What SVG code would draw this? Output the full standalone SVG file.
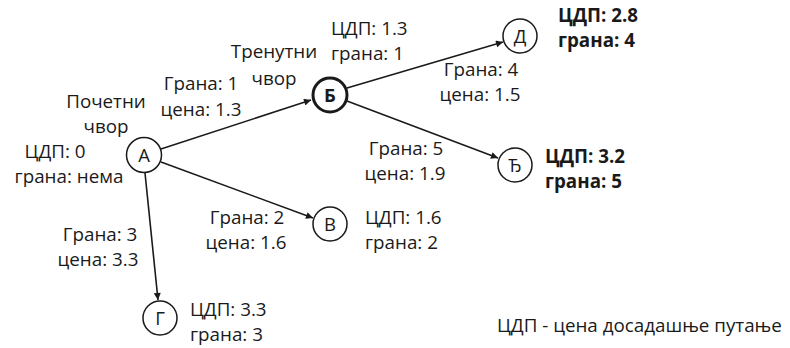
<svg xmlns="http://www.w3.org/2000/svg" width="790" height="348" viewBox="0 0 790 348">
  <style>
    text { font-family: "Open Sans", "Liberation Sans", sans-serif; font-size: 18.8px; fill: #1a1a1a; }
    .b { font-weight: bold; }
    .m { text-anchor: middle; }
    .node circle { fill: #fff; stroke: #1a1a1a; stroke-width: 1.5; }
    .node.cur circle { stroke-width: 3; }
    .node text { text-anchor: middle; font-size: 18.5px; }
    .edges line { stroke: #1a1a1a; stroke-width: 1.6; marker-end: url(#arrow); }
  </style>
  <defs>
    <marker id="arrow" viewBox="0 0 10 10" refX="10" refY="5" markerWidth="8" markerHeight="7" markerUnits="userSpaceOnUse" orient="auto">
      <path d="M0,0 L10,5 L0,10 z" fill="#1a1a1a"/>
    </marker>
  </defs>
  <rect width="790" height="348" fill="#fff"/>

  <g class="edges">
    <line x1="161" y1="149" x2="311" y2="100"/>
    <line x1="161" y1="162" x2="313" y2="218"/>
    <line x1="145" y1="173" x2="158" y2="300"/>
    <line x1="347" y1="88" x2="503" y2="42"/>
    <line x1="347" y1="101" x2="498" y2="158"/>
  </g>

  <g id="node-a" class="node"><circle cx="144" cy="155" r="17.5"/><text x="144" y="161.5">А</text></g>
  <g id="node-b" class="node cur"><circle cx="330" cy="95" r="17"/><text x="330" y="101.5" class="b">Б</text></g>
  <g id="node-d" class="node"><circle cx="520" cy="36" r="17"/><text x="520" y="42.5">Д</text></g>
  <g id="node-dj" class="node"><circle cx="515" cy="165" r="17"/><text x="515" y="171.5">Ђ</text></g>
  <g id="node-v" class="node"><circle cx="330" cy="224" r="17"/><text x="330" y="230.5">В</text></g>
  <g id="node-g" class="node"><circle cx="160" cy="318" r="17"/><text x="160" y="324.5">Г</text></g>

  <g id="labels">
    <text x="106" y="108" class="m">Почетни</text>
    <text x="106" y="133" class="m">чвор</text>
    <text x="55" y="158" class="m">ЦДП: 0</text>
    <text x="69" y="183" class="m">грана: нема</text>

    <text x="201" y="90" class="m">Грана: 1</text>
    <text x="201" y="116" class="m">цена: 1.3</text>

    <text x="274" y="58" class="m">Тренутни</text>
    <text x="274" y="85" class="m">чвор</text>
    <text x="331" y="35">ЦДП: 1.3</text>
    <text x="331" y="60">грана: 1</text>

    <text x="481" y="76" class="m">Грана: 4</text>
    <text x="480" y="101" class="m">цена: 1.5</text>
    <text x="558" y="22" class="b">ЦДП: 2.8</text>
    <text x="558" y="47" class="b">грана: 4</text>

    <text x="406" y="155" class="m">Грана: 5</text>
    <text x="405" y="180" class="m">цена: 1.9</text>
    <text x="545" y="163" class="b">ЦДП: 3.2</text>
    <text x="545" y="188" class="b">грана: 5</text>

    <text x="247" y="224" class="m">Грана: 2</text>
    <text x="246" y="249" class="m">цена: 1.6</text>
    <text x="365" y="224">ЦДП: 1.6</text>
    <text x="365" y="249">грана: 2</text>

    <text x="100" y="241" class="m">Грана: 3</text>
    <text x="98" y="266" class="m">цена: 3.3</text>
    <text x="190" y="316">ЦДП: 3.3</text>
    <text x="190" y="341">грана: 3</text>

    <text x="497" y="332">ЦДП - цена досадашње путање</text>
  </g>
</svg>
